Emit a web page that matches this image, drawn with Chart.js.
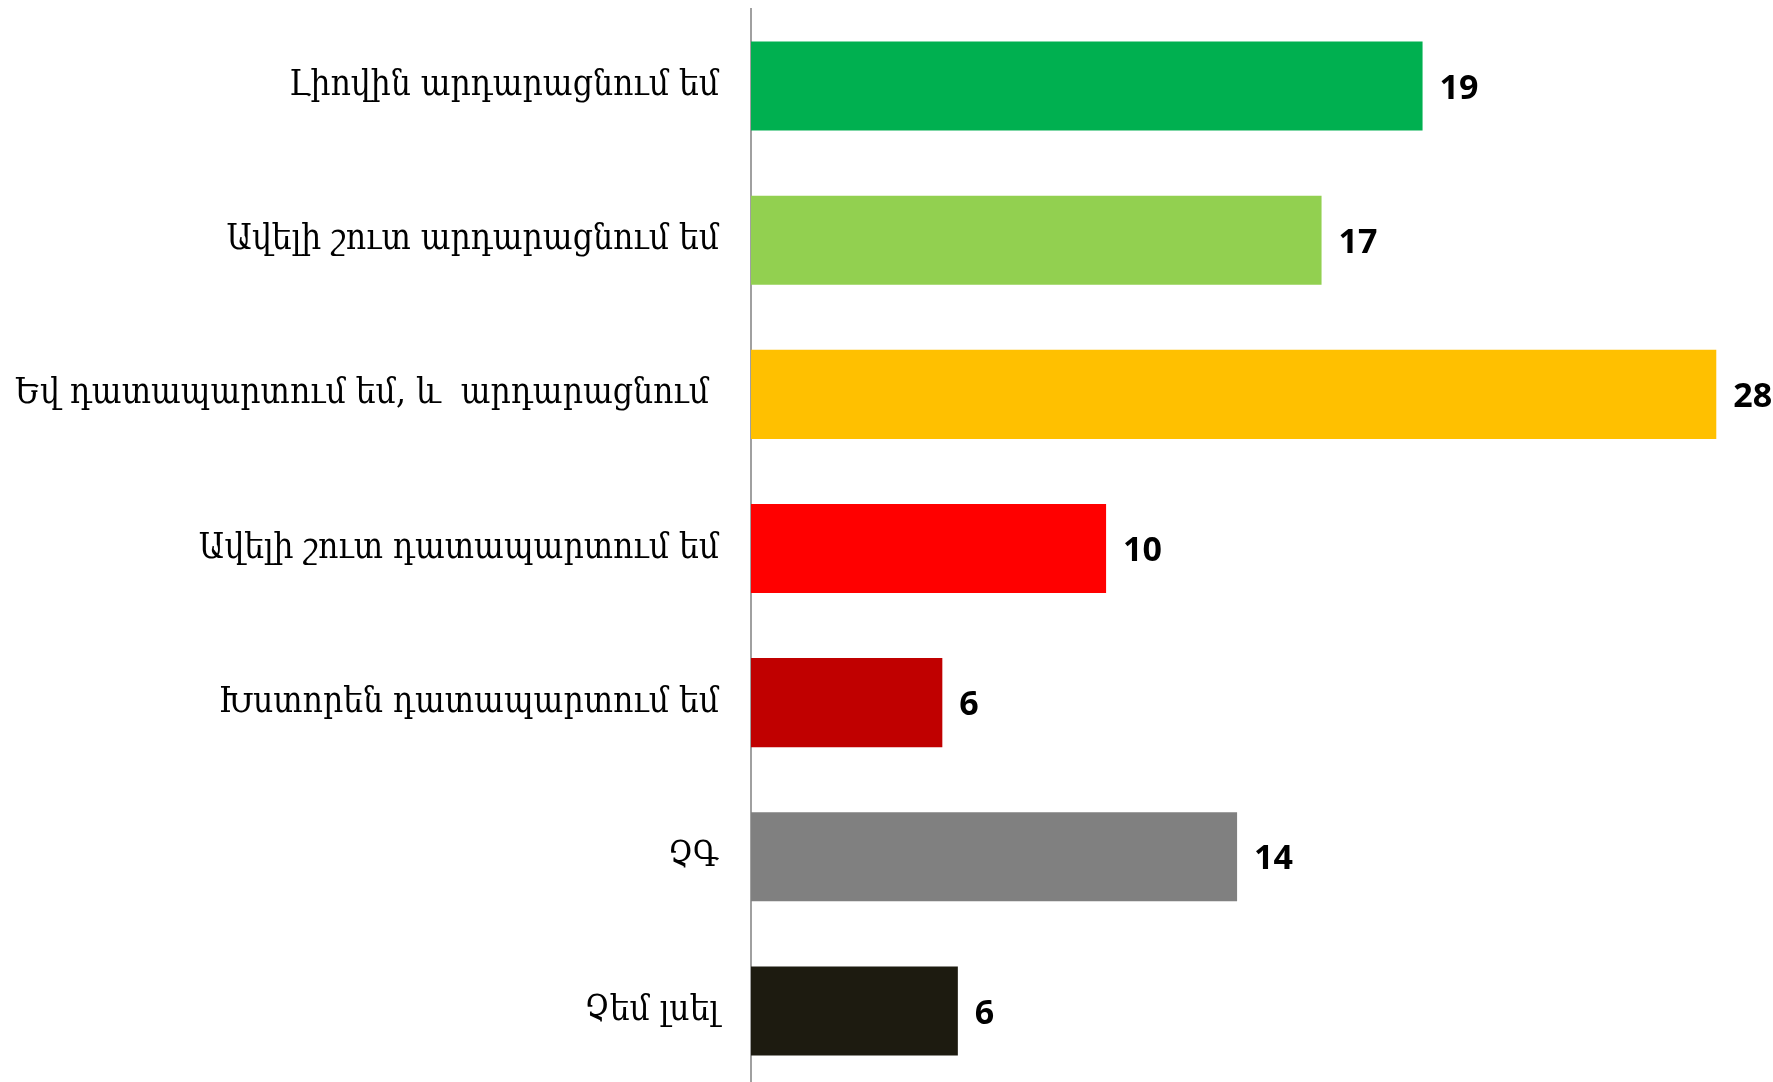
<!DOCTYPE html>
<html lang="hy">
<head>
    <meta charset="UTF-8">
    <title>Արդարացնում եմ / դատապարտում եմ</title>
    <style>
        html, body {
            margin: 0;
            padding: 0;
            background: #ffffff;
            overflow: hidden;
        }
        canvas {
            display: block;
        }
    </style>
</head>
<body>
    <canvas id="answers-chart" width="1773" height="1088"></canvas>

    <script src="https://cdn.jsdelivr.net/npm/chart.js"></script>

    <script>
        // Answer categories (top to bottom)
        const categories = [
            "Լիովին արդարացնում եմ",
            "Ավելի շուտ արդարացնում եմ",
            "Եվ դատապարտում եմ, և  արդարացնում ",
            "Ավելի շուտ դատապարտում եմ",
            "Խստորեն դատապարտում եմ",
            "ՉԳ",
            "Չեմ լսել"
        ];

        // Percent values (labels are shown rounded)
        const percents = [19.48, 16.55, 28.0, 10.3, 5.55, 14.1, 6.0];

        const barColors = ["#00B050", "#92D050", "#FFC000", "#FF0000", "#C00000", "#808080", "#1D1B10"];

        // Draws the rounded value to the right of each bar
        const valueLabels = {
            id: "valueLabels",
            afterDatasetsDraw(chart) {
                const ctx = chart.ctx;
                const meta = chart.getDatasetMeta(0);
                ctx.save();
                ctx.font = "bold 34px 'Open Sans'";
                ctx.fillStyle = "#000000";
                ctx.textAlign = "left";
                ctx.textBaseline = "middle";
                meta.data.forEach(function(bar, i) {
                    ctx.fillText(String(Math.round(percents[i])), bar.x + 17, bar.y + 3);
                });
                ctx.restore();
            }
        };

        const ctx = document.getElementById("answers-chart").getContext("2d");
        new Chart(ctx, {
            type: "bar",
            data: {
                labels: categories,
                datasets: [{
                    data: percents,
                    backgroundColor: barColors,
                    borderWidth: 0,
                    categoryPercentage: 1.0,
                    barPercentage: 0.578
                }]
            },
            options: {
                indexAxis: "y",
                responsive: false,
                animation: false,
                devicePixelRatio: 1,
                layout: {
                    padding: { top: 9, right: 5, bottom: 0, left: 0 }
                },
                plugins: {
                    legend: { display: false },
                    tooltip: { enabled: false }
                },
                scales: {
                    x: {
                        display: false,
                        min: 0,
                        max: 29.5
                    },
                    y: {
                        grid: { display: false, drawTicks: false },
                        border: { display: true, color: "#a0a0a0", width: 2 },
                        ticks: {
                            color: "#000000",
                            padding: 32,
                            font: { family: "'DejaVu Serif Condensed', 'DejaVu Serif', serif", size: 35 }
                        },
                        afterFit(scale) {
                            // keep the axis line where it sits in the original
                            scale.width = 751;
                            scale.paddingTop = 0;
                            scale.paddingBottom = 0;
                        }
                    }
                }
            },
            plugins: [valueLabels]
        });
    </script>
</body>
</html>
